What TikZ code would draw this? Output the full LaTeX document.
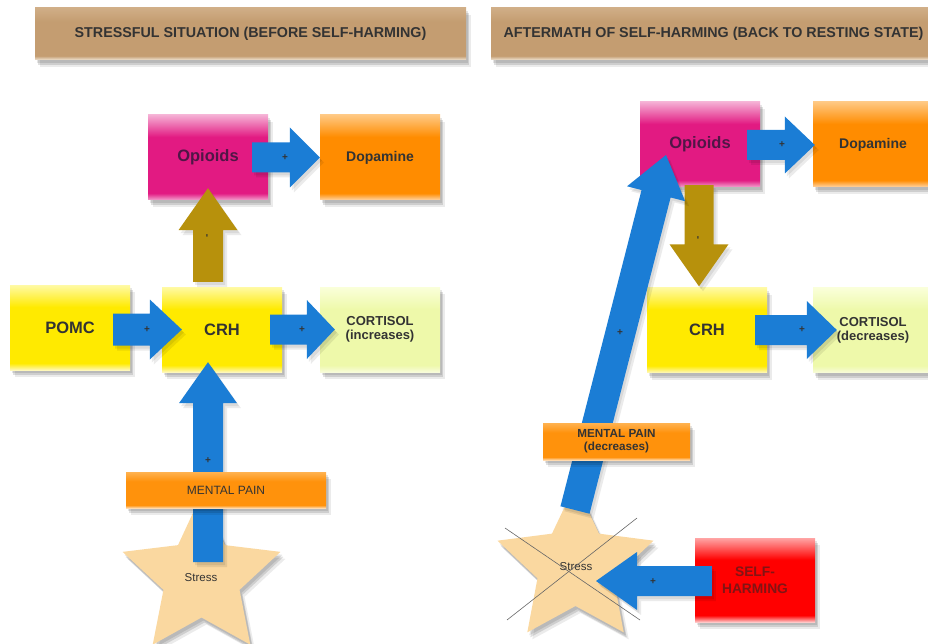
\documentclass[tikz,border=0pt]{standalone}
\usepackage{fontspec}
\setmainfont{Liberation Sans}
\usetikzlibrary{calc,shadows}
\definecolor{bannerC}{RGB}{196,157,113}
\definecolor{bannerT}{RGB}{208,174,135}
\definecolor{bannerB}{RGB}{240,228,212}
\definecolor{magC}{RGB}{226,26,130}
\definecolor{magT}{RGB}{245,175,212}
\definecolor{magB}{RGB}{242,160,205}
\definecolor{orgC}{RGB}{255,140,0}
\definecolor{orgT}{RGB}{255,200,130}
\definecolor{orgB}{RGB}{255,212,165}
\definecolor{yelC}{RGB}{255,234,0}
\definecolor{yelT}{RGB}{255,250,165}
\definecolor{yelB}{RGB}{255,248,185}
\definecolor{corC}{RGB}{238,249,170}
\definecolor{corT}{RGB}{250,255,218}
\definecolor{corB}{RGB}{248,252,218}
\definecolor{redC}{RGB}{255,0,0}
\definecolor{redT}{RGB}{255,165,165}
\definecolor{redB}{RGB}{255,200,200}
\definecolor{mpC}{RGB}{255,146,12}
\definecolor{mpT}{RGB}{255,178,80}
\definecolor{mpB}{RGB}{255,218,175}
\definecolor{bluC}{RGB}{27,125,213}
\definecolor{oliC}{RGB}{183,145,12}
\definecolor{starC}{RGB}{250,216,160}
\definecolor{txt}{RGB}{51,51,51}
\definecolor{opTxt}{RGB}{80,22,70}
\definecolor{selfTxt}{RGB}{130,20,20}
\newcommand{\mkshade}[4]{\pgfdeclareverticalshading{#1}{100bp}{color(0bp)=(#3); color(25bp)=(#3); color(29bp)=(#2); color(62bp)=(#2); color(75bp)=(#4); color(100bp)=(#4)}}
\mkshade{shBan}{bannerC}{bannerB}{bannerT}
\mkshade{shMag}{magC}{magB}{magT}
\mkshade{shOrg}{orgC}{orgB}{orgT}
\mkshade{shYel}{yelC}{yelB}{yelT}
\mkshade{shCor}{corC}{corB}{corT}
\mkshade{shRed}{redC}{redB}{redT}
\mkshade{shMP}{mpC}{mpB}{mpT}
% block arrow: #1 style, #2 start, #3 tip, #4 shaft half width, #5 head half width, #6 head length
\newcommand{\blockarrow}[6]{%
  \coordinate (ba-s) at (#2);
  \coordinate (ba-e) at (#3);
  \coordinate (ba-h) at ($(ba-e)!#6!(ba-s)$);
  \fill[#1] ($(ba-s)!#4!90:(ba-e)$) -- ($(ba-h)!#4!-90:(ba-s)$) -- ($(ba-h)!#5!-90:(ba-s)$) -- (ba-e) -- ($(ba-h)!#5!90:(ba-s)$) -- ($(ba-h)!#4!90:(ba-s)$) -- ($(ba-s)!#4!-90:(ba-e)$) -- cycle;
}
\newcommand{\starat}[4]{%
  \begin{scope}[shift={(#1,#2)}]
    \fill[starC, shadowed] (-90:#3) -- (-54:#4) -- (-18:#3) -- (18:#4) -- (54:#3) -- (90:#4) -- (126:#3) -- (162:#4) -- (198:#3) -- (234:#4) -- cycle;
  \end{scope}
}
\tikzset{
  shadowed/.style={drop shadow={shadow xshift=5pt,shadow yshift=-7pt,opacity=0.08,fill=black},
                   drop shadow={shadow xshift=3pt,shadow yshift=-5pt,opacity=0.12,fill=black},
                   drop shadow={shadow xshift=2pt,shadow yshift=-3pt,opacity=0.10,fill=black}},
  lightshadow/.style={drop shadow={shadow xshift=4pt,shadow yshift=-5pt,opacity=0.08,fill=black},
                      drop shadow={shadow xshift=2pt,shadow yshift=-3pt,opacity=0.08,fill=black}},
  box/.style={rectangle, inner sep=0pt, minimum width=120pt, minimum height=85pt, shade, shadowed, text=txt, align=center, font=\fontsize{16.5}{18}\selectfont\bfseries},
  banner/.style={rectangle, inner sep=0pt, shade, shading=shBan, shadowed, text=txt, font=\fontsize{14.3}{16}\selectfont\bfseries},
  mpbanner/.style={rectangle, inner sep=0pt, shade, shading=shMP, shadowed, text=txt, align=center},
  bluearrow/.style={bluC, lightshadow},
  olivearrow/.style={oliC, lightshadow},
  plus/.style={inner sep=0pt, text=txt, font=\fontsize{10}{11}\selectfont\bfseries},
  stresstxt/.style={inner sep=0pt, text=txt, font=\fontsize{11.5}{13}\selectfont},
  crossline/.style={draw=black!60, line width=0.6pt}
}
\begin{document}
\begin{tikzpicture}[x=1pt,y=-1pt]
\useasboundingbox (0,0) rectangle (928,644);
\clip (0,0) rectangle (928,644);

% ---------- titles
\node[banner, minimum width=431pt, minimum height=52pt] (titleL) at (250.5,34) {STRESSFUL SITUATION (BEFORE SELF-HARMING)};
\node[banner, minimum width=445pt, minimum height=52pt] (titleR) at (713.5,34) {AFTERMATH OF SELF-HARMING (BACK TO RESTING STATE)};

% ---------- left panel boxes
\node[box, shading=shMag, text=opTxt] (opL) at (208,157.5) {Opioids};
\node[box, shading=shOrg, font=\fontsize{14}{16}\selectfont\bfseries] (dopL) at (380,157.5) {Dopamine};
\node[box, shading=shYel] (pomc) at (70,327.5) {POMC};
\node[box, shading=shYel] (crhL) at (222,329.5) {CRH};
\node[box, shading=shCor, font=\fontsize{13}{14}\selectfont\bfseries] (corL) at (380,329.5) {CORTISOL\\(increases)};

% ---------- right panel boxes
\node[box, shading=shMag, text=opTxt] (opR) at (700,144.5) {Opioids};
\node[box, shading=shOrg, font=\fontsize{14}{16}\selectfont\bfseries] (dopR) at (873,144.5) {Dopamine};
\node[box, shading=shYel] (crhR) at (707,330) {CRH};
\node[box, shading=shCor, font=\fontsize{13}{14}\selectfont\bfseries] (corR) at (873,330) {CORTISOL\\(decreases)};
\node[box, shading=shRed, text=selfTxt, minimum height=84pt, font=\fontsize{13.8}{16.5}\selectfont\bfseries] (selfh) at (755,580) {SELF-\\HARMING};

% ---------- stars
\starat{201.5}{577.5}{83}{40}
\node[stresstxt] (stressL) at (201,578) {Stress};
\starat{575.5}{566}{82}{40}
\node[stresstxt] (stressR) at (576,567) {Stress};

% ---------- left arrows
\blockarrow{bluearrow}{$(opL.east)+(-16,0)$}{dopL.west}{15pt}{30pt}{30pt}
\blockarrow{olivearrow}{$(opL.south |- crhL.north)+(0,-5)$}{$(opL.south)+(0,-12)$}{15pt}{29.5pt}{42pt}
\blockarrow{bluearrow}{$(pomc.east |- crhL.center)+(-17,0)$}{$(crhL.west)+(20,0)$}{16pt}{30pt}{32pt}
\blockarrow{bluearrow}{$(crhL.east)+(-12,0)$}{$(corL.west)+(15,0)$}{15pt}{29.5pt}{28pt}
\blockarrow{bluearrow}{$(opL.south |- stressL.center)+(0,-16)$}{$(opL.south |- crhL.south)+(0,-10)$}{15pt}{29pt}{41pt}

% ---------- right arrows
\blockarrow{bluearrow}{$(opR.east)+(-13,0.5)$}{$(dopR.west)+(2,0.5)$}{15pt}{28.5pt}{30pt}
\blockarrow{olivearrow}{$(opR.south)+(-1,-2)$}{$(opR.south |- crhR.north)+(-1,-1)$}{14.5pt}{29.5pt}{42pt}
\blockarrow{bluearrow}{$(crhR.east)+(-12,0)$}{$(corR.west)+(24,0)$}{15pt}{29pt}{30pt}
\blockarrow{bluearrow}{$(stressR.center)+(-1,-57)$}{$(opR.center)+(-34,10.5)$}{15pt}{30pt}{40pt}
\blockarrow{bluearrow}{$(selfh.west)+(17,1)$}{$(stressR.center)+(20,14)$}{15pt}{29pt}{41pt}

% ---------- mental pain banners
\node[mpbanner, minimum width=200pt, minimum height=36pt, font=\fontsize{12}{14}\selectfont] (mpL) at (226,490) {MENTAL PAIN};
\node[mpbanner, minimum width=147pt, minimum height=37pt, font=\fontsize{11.7}{13}\selectfont\bfseries] (mpR) at (616.5,441.5) {MENTAL PAIN\\(decreases)};

% ---------- cross over right star
\coordinate (cA1) at (505,528);
\coordinate (cA2) at (640,620);
\coordinate (cB1) at (637,518);
\coordinate (cB2) at (507,620);
\draw[crossline] (cA1) -- (cA2);
\draw[crossline] (cB1) -- (cB2);

% ---------- signs
\node[plus] (pl1) at (285,158) {+};
\node[plus] (pl2) at (147,330) {+};
\node[plus] (pl3) at (302,330) {+};
\node[plus] (pl4) at (208,461) {+};
\node[plus, rotate=90] (mi1) at (208,236) {-};
\node[plus] (pr1) at (782,145) {+};
\node[plus] (pr2) at (802,330) {+};
\node[plus] (pr3) at (620,333) {+};
\node[plus] (pr4) at (653,582) {+};
\node[plus, rotate=90] (mi2) at (699,238) {-};
\end{tikzpicture}
\end{document}
